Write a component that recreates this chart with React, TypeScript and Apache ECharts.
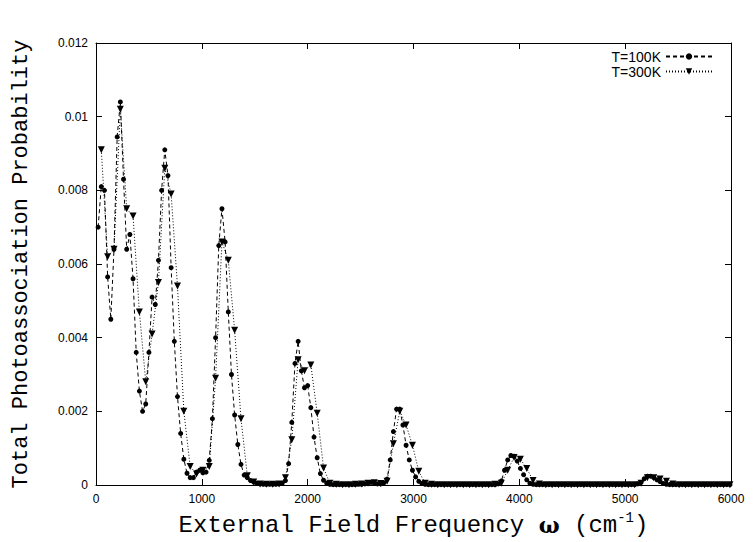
import React, { useEffect, useRef } from "react";
import * as echarts from "echarts";

// Total photoassociation probability, T = 100 K (grid: 20, 50, 80, ... cm^-1, step 30)
const P_100K = [
  0.0070, 0.0081, 0.0080, 0.00565, 0.0045, 0.0064, 0.00945, 0.0104, 0.0083, 0.0064,
  0.0068, 0.0056, 0.0036, 0.00255, 0.0020, 0.0022, 0.0036, 0.0051, 0.0049, 0.0061,
  0.0080, 0.0091, 0.0084, 0.0059, 0.0039, 0.0024, 0.0014, 0.0007, 0.00032, 0.0002,
  0.0002, 0.00035, 0.0004, 0.00033, 0.00035, 0.00067, 0.0018, 0.0040, 0.0065, 0.0075,
  0.0066, 0.0047, 0.0030, 0.0019, 0.0011, 0.00056, 0.00027, 0.0002, 0.00012, 0.00008,
  0.00005, 0.00003, 0.00002, 0.00002, 0.00002, 0.00002, 0.00002, 0.00003, 0.00005, 0.00012,
  0.00058, 0.0017, 0.0033, 0.0039, 0.0031, 0.00264, 0.0027, 0.0021, 0.0013, 0.00074,
  0.00031, 0.00013, 0.00005, 0.00002, 0.00001, 0.00001, 0.00001, 0.00001, 0.00001, 0.00001,
  0.00001, 0.00001, 0.00002, 0.00002, 0.00003, 0.00005, 0.00007, 0.00005, 0.00003, 0.00003,
  0.00006, 0.00016, 0.00068, 0.00145, 0.00206, 0.00206, 0.00163, 0.00108, 0.00068, 0.0004,
  0.00022, 0.0001, 0.00004, 0.00002, 0.00001, 0.00001, 0.00001, 0.00001, 0.00001, 0.00001,
  0.00001, 0.00001, 0.00001, 0.00001, 0.00001, 0.00001, 0.00001, 0.00001, 0.00001, 0.00001,
  0.00001, 0.00001, 0.00001, 0.00001, 0.00001, 0.00001, 0.00003, 0.00011, 0.0004, 0.00068,
  0.0008, 0.00078, 0.00065, 0.00045, 0.00028, 0.00014, 0.00005, 0.00002, 0.00001, 0.00001,
  0.00001, 0.00001, 0.00001, 0.00001, 0.00001, 0.00001, 0.00001, 0.00001, 0.00001, 0.00001,
  0.00001, 0.00001, 0.00001, 0.00001, 0.00001, 0.00001, 0.00001, 0.00001, 0.00001, 0.00001,
  0.00001, 0.00001, 0.00001, 0.00001, 0.00001, 0.00001, 0.00001, 0.00001, 0.00001, 0.00001,
  0.00003, 0.00007, 0.00017, 0.00024, 0.00024, 0.0002, 0.00014, 0.00009, 0.00004, 0.00002,
  0.00001, 0.00001, 0.00001, 0.00001, 0.00001, 0.00001, 0.00001, 0.00001, 0.00001, 0.00001,
  0.00001, 0.00001, 0.00001, 0.00001, 0.00001, 0.00001, 0.00001, 0.00001, 0.00001, 0.00001,
];

// T = 300 K (grid: 50, 110, 170, ... cm^-1, step 60)
const P_300K = [
  0.0091, 0.0062, 0.0064, 0.0102, 0.0075, 0.0073, 0.0047, 0.0028, 0.0041, 0.0055,
  0.0086, 0.0079, 0.0054, 0.0020, 0.0005, 0.0003, 0.0004, 0.0005, 0.0029, 0.0066,
  0.0061, 0.0042, 0.0018, 0.00025, 0.00008, 0.00003, 0.00002, 0.00002, 0.00003, 0.0002,
  0.00123, 0.0034, 0.0031, 0.00326, 0.00195, 0.00046, 0.00005, 0.00002, 0.00001, 0.00001,
  0.00002, 0.00003, 0.00005, 0.00006, 0.00004, 0.0001, 0.00112, 0.0020, 0.00163, 0.00108,
  0.00037, 0.00005, 0.00002, 0.00001, 0.00001, 0.00001, 0.00001, 0.00001, 0.00001, 0.00001,
  0.00001, 0.00001, 0.00002, 0.00005, 0.0004, 0.00075, 0.0007, 0.00045, 0.00012, 0.00003,
  0.00001, 0.00001, 0.00001, 0.00001, 0.00001, 0.00001, 0.00001, 0.00001, 0.00001, 0.00001,
  0.00001, 0.00001, 0.00001, 0.00001, 0.00001, 0.00005, 0.0002, 0.0002, 0.00016, 0.0001,
  0.00003, 0.00001, 0.00001, 0.00001, 0.00001, 0.00001, 0.00001, 0.00001, 0.00001, 0.00001,
];

const GRID_100K = { start: 20, step: 30 };
const GRID_300K = { start: 50, step: 60 };

const SERIES_NAMES = ["T=100K", "T=300K"];
const X_AXIS = { min: 0, max: 6000, interval: 1000 };
const Y_AXIS = { min: 0, max: 0.012, interval: 0.002 };
const X_TITLE = "{t|External Field Frequency }{w|ω}{t| (cm}{s|-1}{t|)}";
const Y_TITLE = "Total Photoassociation Probability";

export default function App() {
  const ref = useRef<HTMLDivElement>(null);

  useEffect(() => {
    if (!ref.current) return;
    const chart = echarts.init(ref.current, null, { renderer: "svg" });

    const d100 = P_100K.map((v, i) => [GRID_100K.start + GRID_100K.step * i, v]);
    const d300 = P_300K.map((v, i) => [GRID_300K.start + GRID_300K.step * i, v]);

    const axisLine = { show: true, onZero: false, lineStyle: { color: "#000", width: 1 } };
    const axisTick = { show: true, inside: true, length: 6, lineStyle: { color: "#000", width: 1 } };
    const tickFont = { color: "#000", fontFamily: "Liberation Sans", fontSize: 12 };

    chart.setOption({
      animation: false,
      backgroundColor: "#fff",
      grid: { left: 96, right: 23, top: 43, bottom: 51, show: false },
      legend: {
        data: SERIES_NAMES,
        orient: "vertical",
        right: 36,
        top: 44,
        align: "right",
        itemWidth: 46,
        itemHeight: 8,
        itemGap: 0,
        textStyle: { color: "#000", fontFamily: "Liberation Sans", fontSize: 14, lineHeight: 15 },
      },
      xAxis: [
        {
          type: "value",
          ...X_AXIS,
          axisLine,
          axisTick,
          splitLine: { show: false },
          axisLabel: { ...tickFont, margin: 8, formatter: (v: number) => String(v) },
          name: X_TITLE,
          nameLocation: "middle",
          nameGap: 26,
          nameTextStyle: {
            color: "#000",
            rich: {
              t: { fontFamily: "Liberation Mono", fontSize: 24, color: "#000", lineHeight: 28 },
              w: { fontFamily: "DejaVu Serif", fontSize: 22, color: "#000", fontWeight: "bold", lineHeight: 28 },
              s: { fontFamily: "Liberation Mono", fontSize: 14, color: "#000", verticalAlign: "top", lineHeight: 12 },
            },
          },
        },
        {
          type: "value",
          position: "top",
          ...X_AXIS,
          axisLine,
          axisTick,
          splitLine: { show: false },
          axisLabel: { show: false },
        },
      ],
      yAxis: [
        {
          type: "value",
          ...Y_AXIS,
          axisLine,
          axisTick,
          splitLine: { show: false },
          axisLabel: { ...tickFont, margin: 8 },
          name: Y_TITLE,
          nameLocation: "middle",
          nameGap: 64,
          nameTextStyle: { color: "#000", fontFamily: "Liberation Mono", fontSize: 22 },
        },
        {
          type: "value",
          position: "right",
          ...Y_AXIS,
          axisLine,
          axisTick,
          splitLine: { show: false },
          axisLabel: { show: false },
        },
      ],
      series: [
        {
          name: SERIES_NAMES[1],
          type: "line",
          data: d300,
          xAxisIndex: 0,
          yAxisIndex: 0,
          symbol: "triangle",
          symbolRotate: 180,
          symbolSize: 7,
          showAllSymbol: true,
          lineStyle: { color: "#000", width: 1, type: [1, 2] },
          itemStyle: { color: "#000" },
          z: 2,
        },
        {
          name: SERIES_NAMES[0],
          type: "line",
          data: d100,
          xAxisIndex: 0,
          yAxisIndex: 0,
          symbol: "circle",
          symbolSize: 5,
          showAllSymbol: true,
          lineStyle: { color: "#000", width: 1, type: [4, 3] },
          itemStyle: { color: "#000" },
          z: 3,
        },
      ],
    });

    return () => chart.dispose();
  }, []);

  return (
    <div
      ref={ref}
      style={{ position: "fixed", left: 0, top: 0, width: 754, height: 542, background: "#fff" }}
    />
  );
}
